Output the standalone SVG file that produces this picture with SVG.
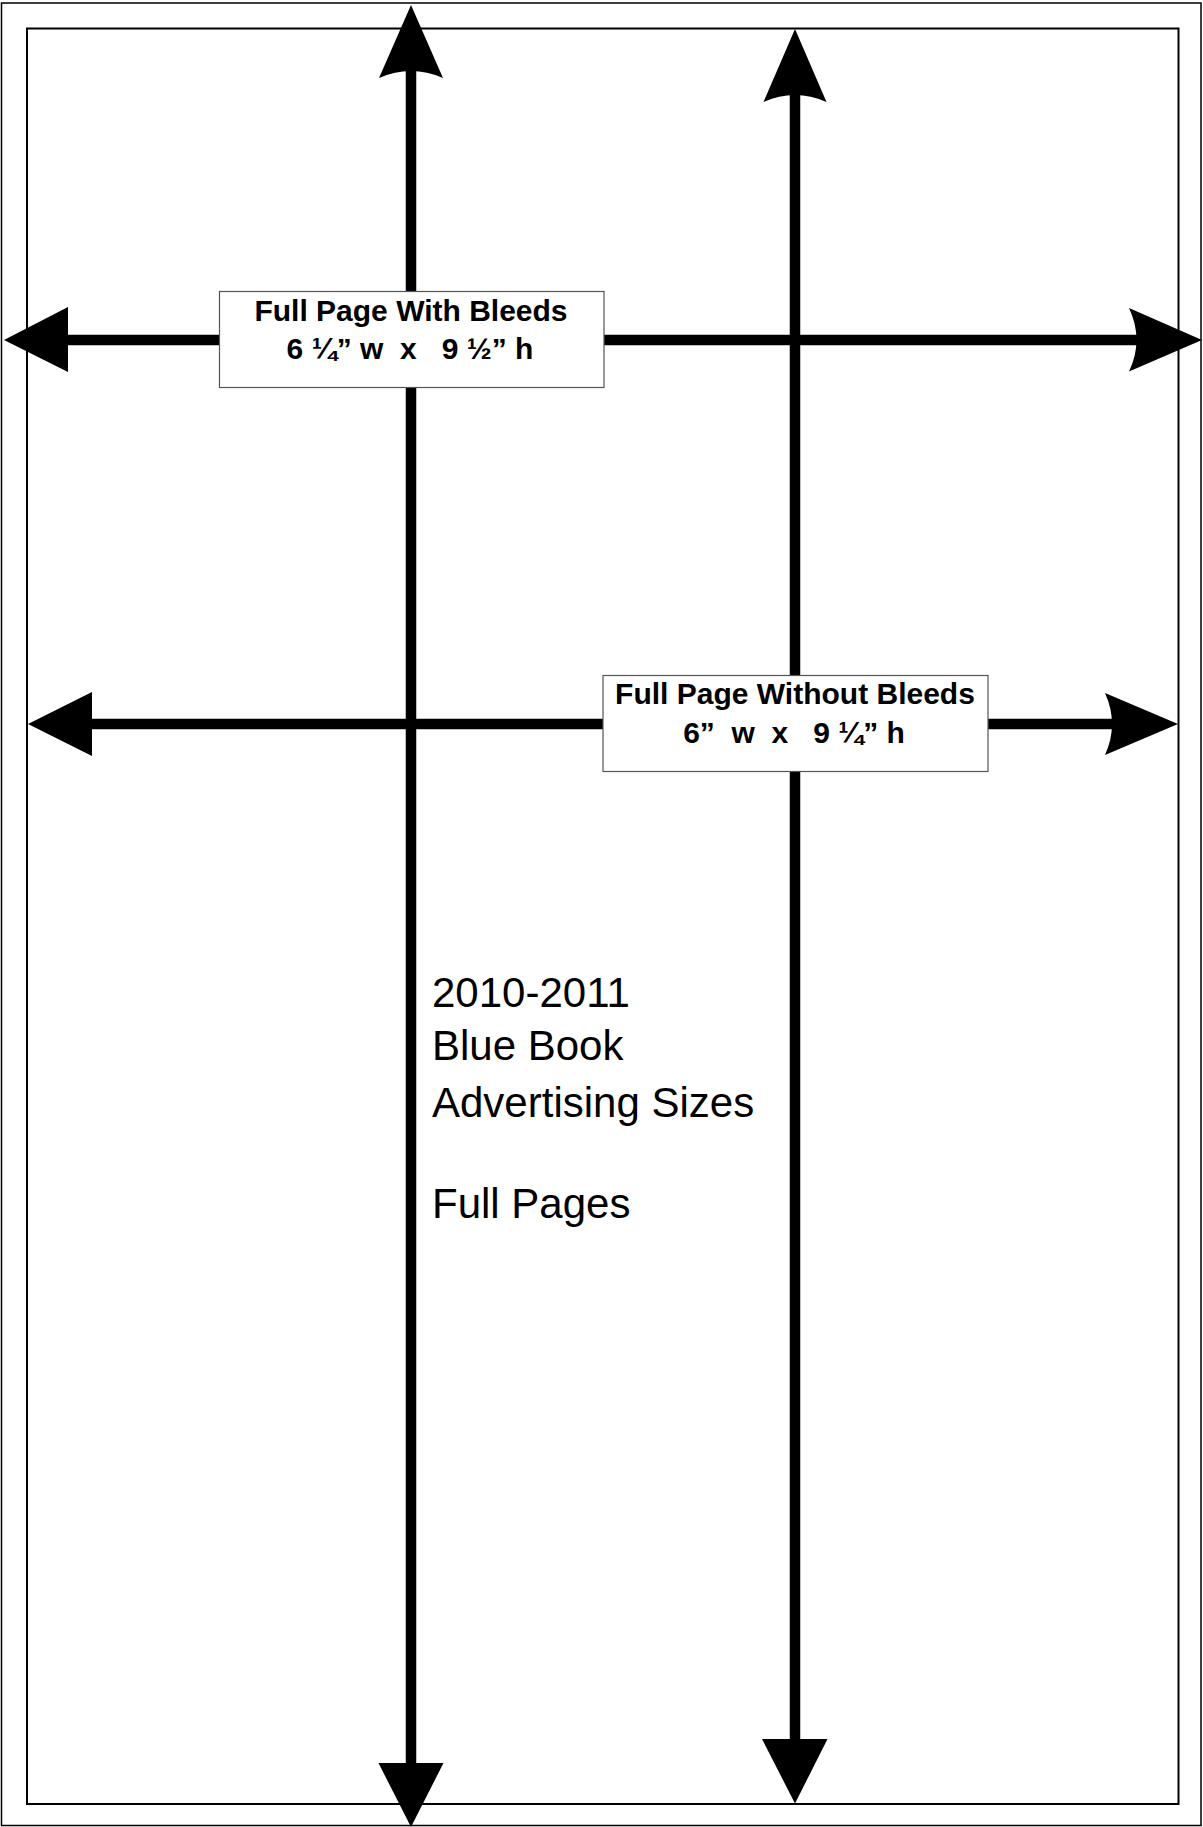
<svg xmlns="http://www.w3.org/2000/svg" width="1203" height="1827" viewBox="0 0 1203 1827">
<style>
.frame{fill:none;stroke:#000}
.ln{stroke:#000;stroke-width:10.5;fill:none}
.hd{fill:#000;stroke:none}
.box{fill:#fff;stroke:#555;stroke-width:1.2}
.lbl{font-family:"Liberation Sans",Arial,sans-serif;font-weight:bold;font-size:30px;fill:#000;text-anchor:middle}
.title{font-family:"Liberation Sans",Arial,sans-serif;font-size:42px;fill:#000}
</style>
<rect width="1203" height="1827" fill="#fff"/>
<g id="page-frame">
<rect class="frame" x="1.5" y="3" width="1199.5" height="1822.5" stroke-width="1.5"/>
<rect class="frame" x="27" y="28.5" width="1151.5" height="1775.5" stroke-width="2"/>
</g>
<g id="connectors">
<line class="ln" x1="411" y1="60" x2="411" y2="1770"/>
<path class="hd" d="M411,5 L443,78 Q411,64 379,78 Z"/>
<path class="hd" d="M378.5,1763 L443.5,1763 L411,1827 Z"/>
<line class="ln" x1="795" y1="82" x2="795" y2="1746"/>
<path class="hd" d="M795,29 L826.5,102 Q795,88 763.5,102 Z"/>
<path class="hd" d="M762,1739 L827.5,1739 L795,1803.5 Z"/>
<line class="ln" x1="60" y1="340" x2="1145" y2="340"/>
<path class="hd" d="M4,340 L68,307 L68,372 Z"/>
<path class="hd" d="M1202,340 L1129,371.5 Q1144,340 1129,308 Z"/>
<line class="ln" x1="85" y1="724" x2="1122" y2="724"/>
<path class="hd" d="M28,724 L92,692 L92,756 Z"/>
<path class="hd" d="M1178,724 L1105,755 Q1119,724 1105,693 Z"/>
</g>
<g id="node-with-bleeds">
<rect class="box" x="219.5" y="291.5" width="384.5" height="96"/>
<text class="lbl" x="411" y="321">Full Page With Bleeds</text>
<text class="lbl" x="410" y="359" xml:space="preserve">6 ¼” w  x   9 ½” h</text>
</g>
<g id="node-without-bleeds">
<rect class="box" x="603" y="675.5" width="385" height="96"/>
<text class="lbl" x="795" y="704">Full Page Without Bleeds</text>
<text class="lbl" x="794" y="743" xml:space="preserve">6”  w  x   9 ¼” h</text>
</g>
<g id="title">
<text class="title" x="432" y="1007">2010-2011</text>
<text class="title" x="432" y="1060">Blue Book</text>
<text class="title" x="432" y="1117">Advertising Sizes</text>
<text class="title" x="432" y="1218">Full Pages</text>
</g>
</svg>
